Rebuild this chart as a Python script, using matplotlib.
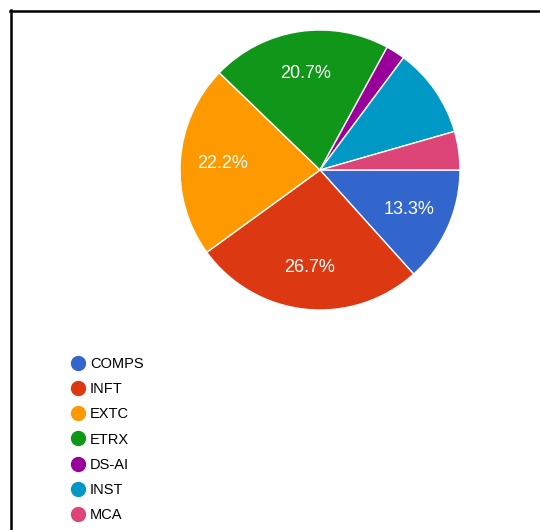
import matplotlib.pyplot as plt
from matplotlib.lines import Line2D

labels = ["COMPS", "INFT", "EXTC", "ETRX", "DS-AI", "INST", "MCA"]
counts = [18, 36, 30, 28, 3, 14, 6]
colors = ["#3366cc", "#dc3912", "#ff9900", "#109618", "#990099", "#0099c6", "#dd4477"]

W, H = 540, 530
plt.rcParams['font.family'] = ['Liberation Sans', 'DejaVu Sans']

fig = plt.figure(figsize=(W / 100, H / 100), dpi=100)

# pie centred at (320, 170) px, radius 140 px
cx, cy, r = 320, 170, 140
ax = fig.add_axes([(cx - r) / W, (H - cy - r) / H, 2 * r / W, 2 * r / H])

def pct_label(p):
	return f"{p:.1f}%" if p > 11 else ""

wedges, _, autotexts = ax.pie(
	counts, colors=colors, startangle=0, counterclock=False,
	autopct=pct_label, pctdistance=0.7,
	wedgeprops=dict(edgecolor="white", linewidth=1),
	textprops=dict(color="white", fontsize=13),
)
ax.set_xlim(-1, 1)
ax.set_ylim(-1, 1)
ax.set_aspect("equal")
ax.axis("off")

# legend with round markers
handles = [Line2D([], [], marker="o", linestyle="", markersize=10,
				  markerfacecolor=c, markeredgecolor=c) for c in colors]
fig.legend(handles, labels, loc="upper left", bbox_to_anchor=(63 / W, 1 - 350 / H),
		   frameon=False, fontsize=10.5, labelspacing=0.76, handletextpad=0.35,
		   handlelength=1.0, borderpad=0)

# frame lines (top and left)
fig.add_artist(Line2D([10 / W, 1], [1 - 11 / H, 1 - 11 / H], color="black", linewidth=1.8))
fig.add_artist(Line2D([11 / W, 11 / W], [0, 1 - 10 / H], color="black", linewidth=1.8))

fig.savefig("out.png", dpi=100)
